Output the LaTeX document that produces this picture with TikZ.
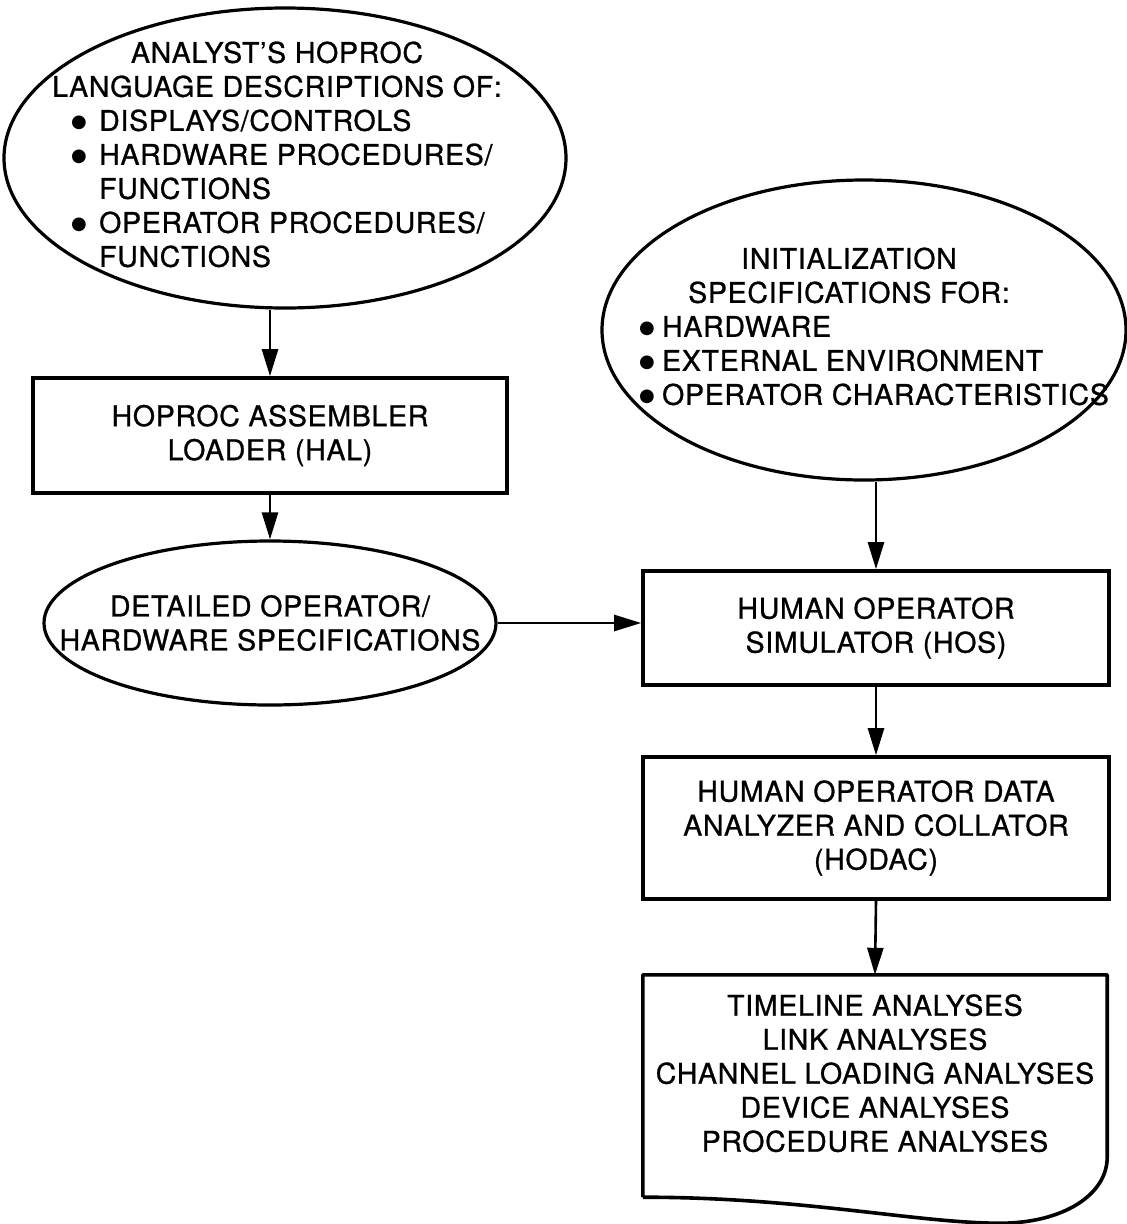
\documentclass[tikz,border=0pt]{standalone}
\usepackage{fontspec}
\setmainfont{TeX Gyre Heros}[FakeBold=0.9,LetterSpace=2.5]
\newfontfamily\symfont{DejaVu Sans}
\usetikzlibrary{arrows.meta,shapes.geometric}
\newcommand{\blt}{\raisebox{3.5pt}{\symfont\fontsize{18}{18}\selectfont ●}}

\begin{document}
\begin{tikzpicture}[x=1pt,y=-1pt,
  every node/.style={font=\fontsize{28.5}{34}\selectfont},
  bubble/.style={ellipse,draw,line width=3.2pt,inner xsep=-150pt,inner ysep=-100pt,align=center},
  block/.style={rectangle,draw,line width=3.6pt,inner sep=0pt,align=center},
  flow/.style={line width=2.6pt,-{Triangle[length=27pt,width=16pt]}}]

\useasboundingbox (0,0) rectangle (1127,1224);

% input descriptions
\node[bubble,minimum width=562pt,minimum height=300pt] (anl) at (285,158)
  {\kern-16pt\begin{tabular}{@{}l@{}}
   \multicolumn{1}{@{}c@{}}{ANALYST'S HOPROC}\\
   LANGUAGE DESCRIPTIONS OF:\\
   \hspace*{19pt}\makebox[28pt][l]{\blt}DISPLAYS/CONTROLS\\
   \hspace*{19pt}\makebox[28pt][l]{\blt}HARDWARE PROCEDURES/\\
   \hspace*{47pt}FUNCTIONS\\
   \hspace*{19pt}\makebox[28pt][l]{\blt}OPERATOR PROCEDURES/\\
   \hspace*{47pt}FUNCTIONS
  \end{tabular}};

\node[bubble,minimum width=524pt,minimum height=300pt] (init) at (864,330)
  {\kern20pt\begin{tabular}{@{}l@{}}
   \multicolumn{1}{@{}c@{}}{INITIALIZATION\hspace*{50pt}}\\
   \multicolumn{1}{@{}c@{}}{SPECIFICATIONS FOR:\hspace*{50pt}}\\
   \makebox[23pt][l]{\blt}HARDWARE\\
   \makebox[23pt][l]{\blt}EXTERNAL ENVIRONMENT\\
   \makebox[23pt][l]{\blt}OPERATOR CHARACTERISTICS
  \end{tabular}};

% processing chain
\node[block,minimum width=474pt,minimum height=115pt] (hal) at (270,435.5)
  {HOPROC ASSEMBLER\\LOADER (HAL)};
\node[bubble,minimum width=452pt,minimum height=164pt] (det) at (270,623)
  {DETAILED OPERATOR/\\HARDWARE SPECIFICATIONS};
\node[block,minimum width=466pt,minimum height=114pt] (hos) at (876,628)
  {HUMAN OPERATOR\\SIMULATOR (HOS)};
\node[block,minimum width=466pt,minimum height=142pt] (hodac) at (876,828)
  {HUMAN OPERATOR DATA\\ANALYZER AND COLLATOR\\(HODAC)};
\node[minimum width=464pt,minimum height=222pt,inner sep=0pt,align=center] (res) at (875,1086)
  {TIMELINE ANALYSES\\LINK ANALYSES\\CHANNEL LOADING ANALYSES\\DEVICE ANALYSES\\PROCEDURE ANALYSES\rule[-26pt]{0pt}{26pt}};

% document outline
\draw[line width=3.6pt,line join=round] (res.south west) -- (res.north west) -- (res.north east)
  -- ([yshift=40pt]res.south east)
  .. controls ([yshift=2pt]res.south east) and ([xshift=-45pt,yshift=-26pt]res.south east) .. ([xshift=-107pt,yshift=-26pt]res.south east)
  .. controls ([xshift=-190pt,yshift=-26pt]res.south east) and ([xshift=160pt]res.south west) .. (res.south west);

\draw[flow] (anl.south -| hal.north) -- (hal.north);
\draw[flow] (hal.south) -- (det.north);
\draw[flow] (det.east) -- (det.east -| hos.west);
\draw[flow] (init.south -| hos.north) -- (hos.north);
\draw[flow] (hos.south) -- (hodac.north);
\draw[flow] (hodac.south) -- (res.north);
\end{tikzpicture}
\end{document}
